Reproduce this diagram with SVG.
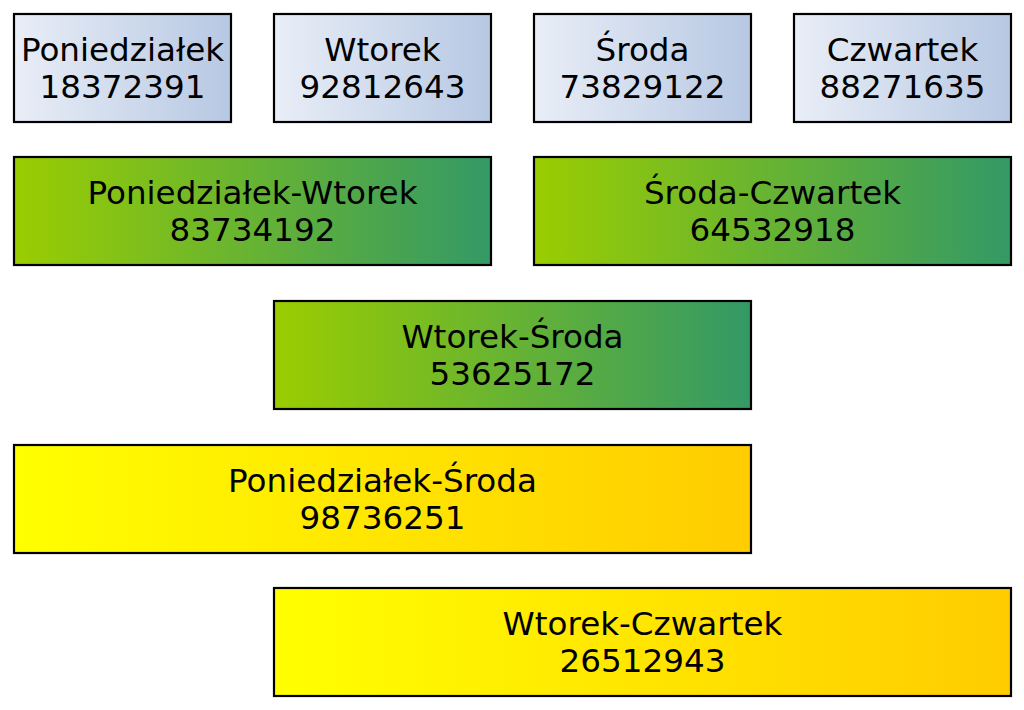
<svg xmlns="http://www.w3.org/2000/svg" width="1024" height="710" viewBox="0 0 1024 710">
<defs>
<linearGradient id="gBlue" x1="0" y1="0" x2="1" y2="0">
<stop offset="0" stop-color="#e9eef7"/><stop offset="1" stop-color="#b7c8e3"/>
</linearGradient>
<linearGradient id="gGreen" x1="0" y1="0" x2="1" y2="0">
<stop offset="0" stop-color="#9acd00"/><stop offset="1" stop-color="#339966"/>
</linearGradient>
<linearGradient id="gYellow" x1="0" y1="0" x2="1" y2="0">
<stop offset="0" stop-color="#ffff00"/><stop offset="1" stop-color="#ffcc00"/>
</linearGradient>
</defs>
<style>
rect{stroke:#000;stroke-width:2.2}
text{font-family:"DejaVu Sans",sans-serif;font-size:32.6px;fill:#000;text-anchor:middle}
</style>
<rect width="1024" height="710" fill="#fff" style="stroke:none"/>
<g id="n-pon"><rect x="14" y="14" width="217" height="108" fill="url(#gBlue)"/><text x="122.5" y="61">Poniedziałek</text><text x="122.5" y="98">18372391</text></g>
<g id="n-wt"><rect x="274" y="14" width="217" height="108" fill="url(#gBlue)"/><text x="382.5" y="61">Wtorek</text><text x="382.5" y="98">92812643</text></g>
<g id="n-sr"><rect x="534" y="14" width="217" height="108" fill="url(#gBlue)"/><text x="642.5" y="61">Środa</text><text x="642.5" y="98">73829122</text></g>
<g id="n-cz"><rect x="794" y="14" width="217" height="108" fill="url(#gBlue)"/><text x="902.5" y="61">Czwartek</text><text x="902.5" y="98">88271635</text></g>
<g id="n-pon-wt"><rect x="14" y="157" width="477" height="108" fill="url(#gGreen)"/><text x="252.5" y="204">Poniedziałek-Wtorek</text><text x="252.5" y="241">83734192</text></g>
<g id="n-sr-cz"><rect x="534" y="157" width="477" height="108" fill="url(#gGreen)"/><text x="772.5" y="204">Środa-Czwartek</text><text x="772.5" y="241">64532918</text></g>
<g id="n-wt-sr"><rect x="274" y="301" width="477" height="108" fill="url(#gGreen)"/><text x="512.5" y="348">Wtorek-Środa</text><text x="512.5" y="385">53625172</text></g>
<g id="n-pon-sr"><rect x="14" y="445" width="737" height="108" fill="url(#gYellow)"/><text x="382.5" y="492">Poniedziałek-Środa</text><text x="382.5" y="529">98736251</text></g>
<g id="n-wt-cz"><rect x="274" y="588" width="737" height="108" fill="url(#gYellow)"/><text x="642.5" y="635">Wtorek-Czwartek</text><text x="642.5" y="672">26512943</text></g>
<g id="connectors"/>
</svg>
